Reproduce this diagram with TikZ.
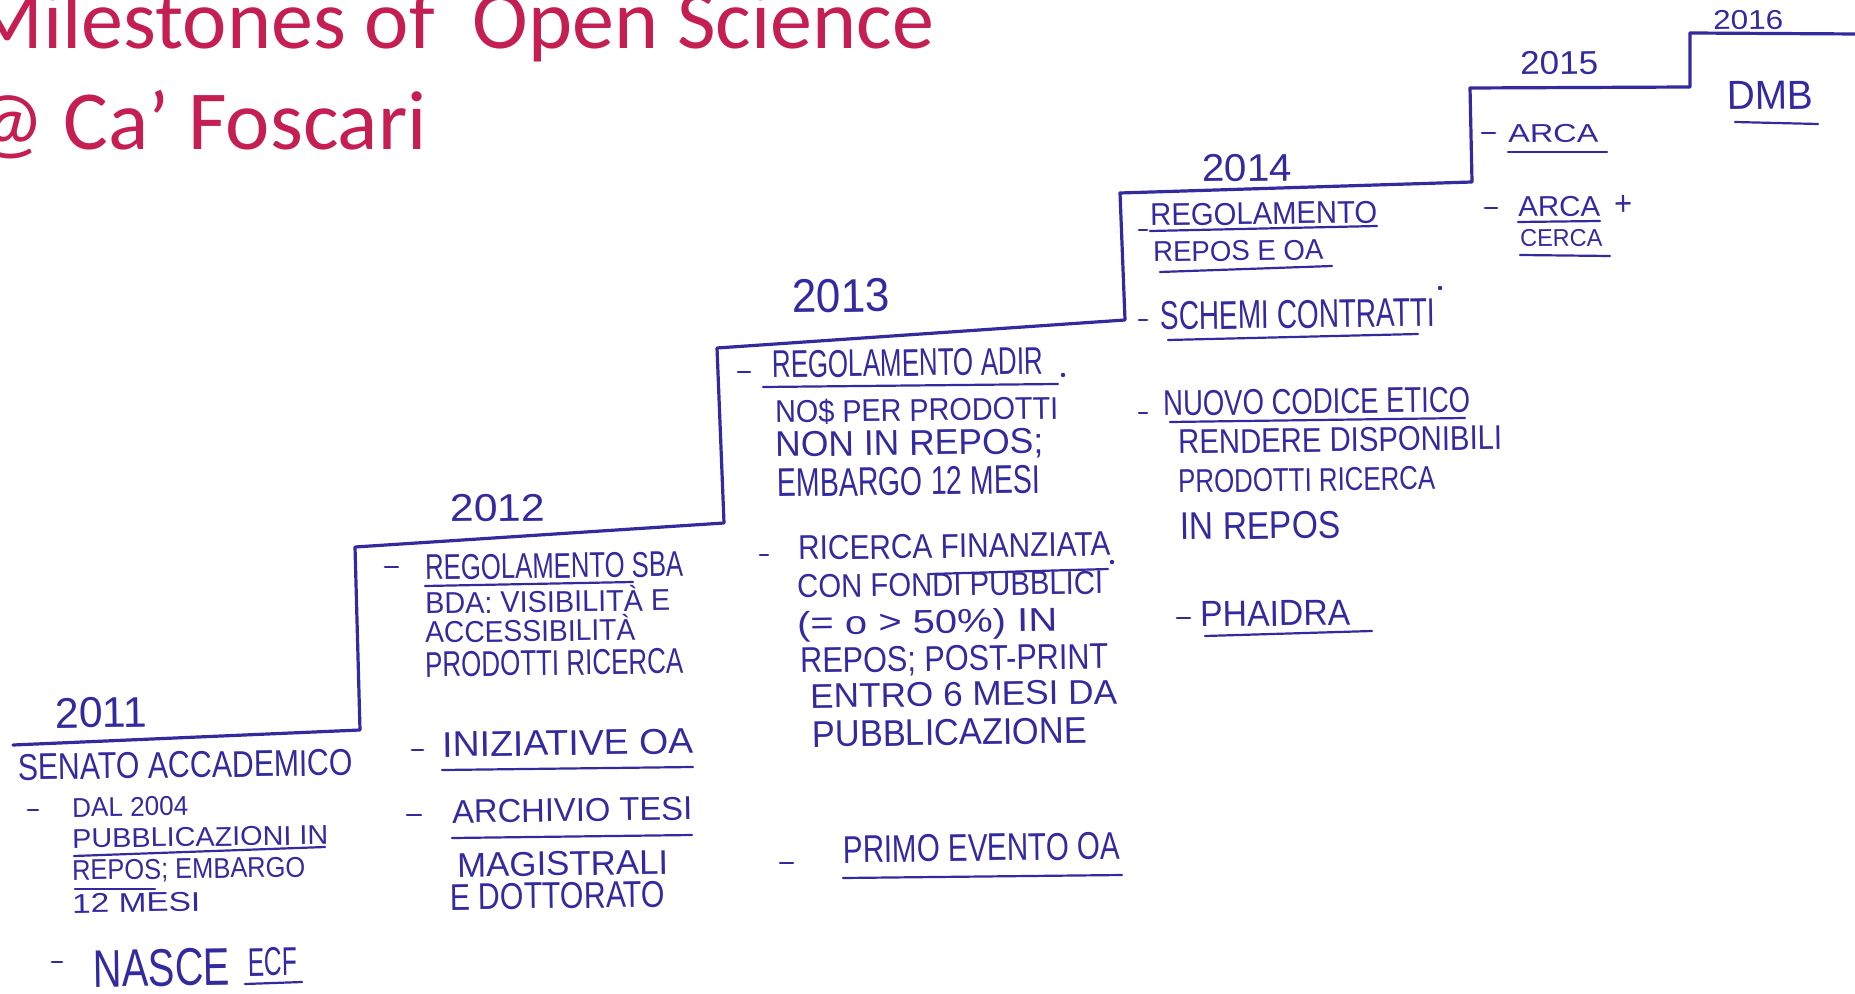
\documentclass[tikz,border=0pt]{standalone}
\usepackage{fontspec}
\usepackage{graphicx}
\newfontfamily\hand{Liberation Sans}
\newfontfamily\ttlfont{Carlito}
\definecolor{ink}{RGB}{52,42,160}
\definecolor{ttlred}{RGB}{197,30,82}
\newdimen\pxu \pxu=0.5pt
\newcommand\hwtext[3]{\resizebox{#1\pxu}{#2\pxu}{\hand #3}}
\tikzset{
  stair/.style={draw=ink, line width=1.6pt, line cap=round, line join=round},
  uline/.style={draw=ink, line width=1.1pt, line cap=round},
  dashmark/.style={draw=ink, line width=1.3pt, line cap=round},
  hw/.style={anchor=base west, inner sep=0pt, text=ink, rotate=0.8},
  ttl/.style={anchor=base west, inner sep=0pt, text=ttlred, font=\ttlfont\fontsize{42}{50}\selectfont},
}
\begin{document}
\begin{tikzpicture}[x=0.5pt, y=-0.5pt]
\fill[white] (0,0) rectangle (1855,994);
\clip (0,0) rectangle (1855,994);

% title
\node[ttl] (title1) at (-29,49) {Milestones of\ \ Open Science};
\node[ttl] (title2) at (-31,150) {@ Ca’ Foscari};

% staircase
\draw[stair] (13,745) -- (360,730) -- (355,547) -- (724,523) -- (717,348) -- (1125,320) -- (1120,193) -- (1472,182) -- (1470,88) -- (1690,87) -- (1690,33) -- (1858,34);

% ---- 2011
\node[hw] (y2011) at (55,728) {\hwtext{92}{30}{2011}};
\node[hw] (senato) at (18,780) {\hwtext{335}{26}{SENATO ACCADEMICO}};
\draw[dashmark] (28,810) -- (38,810);
\node[hw] (dal) at (72,817) {\hwtext{116}{19}{DAL 2004}};
\node[hw] (pubbl) at (72,848) {\hwtext{256}{19}{PUBBLICAZIONI IN}};
\draw[uline] (74,856) -- (325,847);
\node[hw] (repos11) at (72,880) {\hwtext{233}{20}{REPOS; EMBARGO}};
\draw[uline] (75,889) -- (155,889);
\node[hw] (mesi11) at (72,913) {\hwtext{128}{19}{12 MESI}};
\draw[dashmark] (52,962) -- (62,962);
\node[hw] (nasce) at (93,987) {\hwtext{137}{37}{NASCE}};
\node[hw] (ecf) at (248,976) {\hwtext{49}{28}{ECF}};
\draw[uline] (245,984) -- (302,982);

% ---- 2012
\node[hw] (y2012) at (450,522) {\hwtext{95}{27}{2012}};
\draw[dashmark] (385,567) -- (398,567);
\node[hw] (regsba) at (425,580) {\hwtext{258}{25}{REGOLAMENTO SBA}};
\draw[uline] (425,586) -- (633,582);
\node[hw] (bda) at (425,614) {\hwtext{245}{21}{BDA: VISIBILIT\smash{À} E}};
\node[hw] (access) at (425,643) {\hwtext{210}{21}{ACCESSIBILIT\smash{À}}};
\node[hw] (prod12) at (425,677) {\hwtext{258}{25}{PRODOTTI RICERCA}};
\draw[dashmark] (412,750) -- (423,750);
\node[hw] (iniz) at (442,757) {\hwtext{251}{25}{INIZIATIVE OA}};
\draw[uline] (442,770) -- (693,767);
\draw[dashmark] (407,815) -- (421,815);
\node[hw] (archivio) at (452,823) {\hwtext{240}{23}{ARCHIVIO TESI}};
\draw[uline] (452,838) -- (692,835);
\node[hw] (magis) at (457,877) {\hwtext{211}{24}{MAGISTRALI}};
\node[hw] (dott) at (450,910) {\hwtext{215}{26}{E DOTTORATO}};

% ---- 2013
\node[hw] (y2013) at (792,313) {\hwtext{98}{33}{2013}};
\draw[dashmark] (738,372) -- (750,372);
\node[hw] (regadir) at (772,378) {\hwtext{271}{27}{REGOLAMENTO ADIR}};
\draw[uline] (763,387) -- (1058,384);
\fill[ink] (1063,375) circle (2.2);
\node[hw] (nosoldi) at (775,423) {\hwtext{283}{22}{NO\smash{\$} PER PRODOTTI}};
\node[hw] (nonin) at (775,457) {\hwtext{268}{25}{NON IN REPOS;}};
\node[hw] (emb13) at (777,497) {\hwtext{263}{28}{EMBARGO 12 MESI}};
\draw[dashmark] (760,555) -- (768,555);
\node[hw] (ricfin) at (798,560) {\hwtext{312}{24}{RICERCA FINANZIATA}};
\draw[uline] (930,574) -- (1108,569);
\fill[ink] (1112,562) circle (2.2);
\node[hw] (fondi) at (797,598) {\hwtext{306}{23}{CON FONDI PUBBLICI}};
\node[hw] (perc) at (797,635) {\hwtext{260}{24}{(= o > 50\%) IN}};
\node[hw] (postprint) at (800,673) {\hwtext{308}{25}{REPOS; POST-PRINT}};
\node[hw] (entro) at (810,708) {\hwtext{307}{24}{ENTRO 6 MESI DA}};
\node[hw] (pubbl13) at (812,747) {\hwtext{275}{26}{PUBBLICAZIONE}};
\draw[dashmark] (780,863) -- (793,863);
\node[hw] (primo) at (843,863) {\hwtext{277}{27}{PRIMO EVENTO OA}};
\draw[uline] (843,878) -- (1122,875);

% ---- 2014
\node[hw] (y2014) at (1202,182) {\hwtext{90}{27}{2014}};
\draw[dashmark] (1139,230) -- (1147,230);
\node[hw] (reg14) at (1150,226) {\hwtext{227}{22}{REGOLAMENTO}};
\draw[uline] (1150,231) -- (1377,226);
\node[hw] (reposoa) at (1153,262) {\hwtext{170}{20}{REPOS E OA}};
\draw[uline] (1160,272) -- (1332,266);
\draw[dashmark] (1139,320) -- (1147,320);
\node[hw] (schemi) at (1160,330) {\hwtext{275}{28}{SCHEMI CONTRATTI}};
\draw[uline] (1168,340) -- (1418,334);
\fill[ink] (1440,288) circle (2.2);
\draw[dashmark] (1139,413) -- (1147,413);
\node[hw] (codice) at (1163,416) {\hwtext{307}{25}{NUOVO CODICE ETICO}};
\draw[uline] (1170,422) -- (1465,418);
\node[hw] (rendere) at (1178,454) {\hwtext{324}{24}{RENDERE DISPONIBILI}};
\node[hw] (prod14) at (1178,493) {\hwtext{257}{23}{PRODOTTI RICERCA}};
\node[hw] (inrepos) at (1180,540) {\hwtext{160}{27}{IN REPOS}};
\draw[dashmark] (1177,618) -- (1190,618);
\node[hw] (phaidra) at (1200,627) {\hwtext{150}{25}{PHAIDRA}};
\draw[uline] (1205,636) -- (1372,631);

% ---- 2015
\node[hw] (y2015) at (1520,75) {\hwtext{78}{23}{2015}};
\draw[dashmark] (1482,133) -- (1495,133);
\node[hw] (arca1) at (1508,143) {\hwtext{90}{18}{ARCA}};
\draw[uline] (1508,152) -- (1607,152);
\draw[dashmark] (1485,208) -- (1497,208);
\node[hw] (arca2) at (1518,217) {\hwtext{82}{20}{ARCA}};
\node[hw] (plus) at (1614,216) {\hwtext{18}{20}{+}};
\draw[uline] (1518,222) -- (1600,221);
\node[hw] (cerca) at (1520,247) {\hwtext{82}{17}{CERCA}};
\draw[uline] (1520,255) -- (1610,256);

% ---- 2016
\node[hw] (y2016) at (1713,30) {\hwtext{70}{19}{2016}};
\node[hw] (dmb) at (1727,110) {\hwtext{86}{28}{DMB}};
\draw[uline] (1735,122) -- (1818,124);
\end{tikzpicture}
\end{document}
